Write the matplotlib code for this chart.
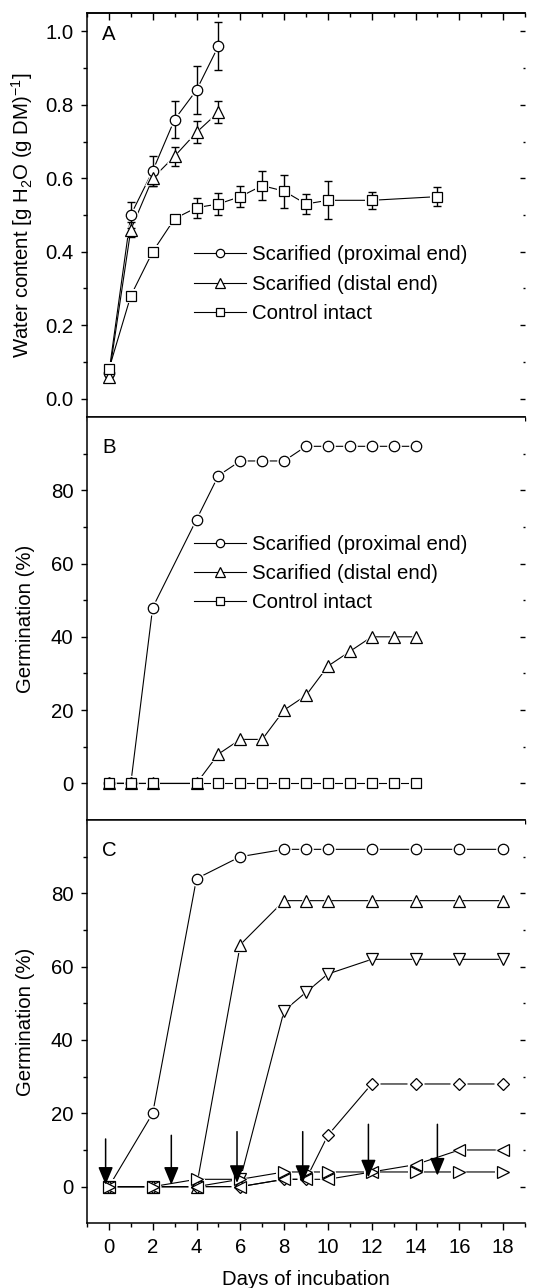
import matplotlib
matplotlib.use('Agg')
import matplotlib.pyplot as plt
from matplotlib.lines import Line2D
from matplotlib.ticker import MultipleLocator, FixedLocator, FormatStrFormatter

plt.rcParams['font.family'] = ['Liberation Sans', 'DejaVu Sans']
plt.rcParams['mathtext.fontset'] = 'custom'
plt.rcParams['mathtext.rm'] = 'Liberation Sans'
plt.rcParams['mathtext.it'] = 'Liberation Sans:italic'
plt.rcParams['mathtext.bf'] = 'Liberation Sans:bold'
plt.rcParams['mathtext.default'] = 'regular'

# ---------------- data ----------------
series_labels = ['Scarified (proximal end)', 'Scarified (distal end)', 'Control intact']

# Panel A: water content
days_a_prox = [0, 1, 2, 3, 4, 5]
water_prox = [0.07, 0.50, 0.62, 0.76, 0.84, 0.96]
water_prox_err = [0.01, 0.035, 0.04, 0.05, 0.065, 0.066]
days_a_dist = [0, 1, 2, 3, 4, 5]
water_dist = [0.06, 0.46, 0.60, 0.66, 0.725, 0.78]
water_dist_err = [0.01, 0.02, 0.02, 0.026, 0.03, 0.03]
days_a_ctrl = [0, 1, 2, 3, 4, 5, 6, 7, 8, 9, 10, 12, 15]
water_ctrl = [0.08, 0.28, 0.40, 0.49, 0.52, 0.53, 0.55, 0.58, 0.565, 0.53, 0.54, 0.54, 0.55]
water_ctrl_err = [0.01, 0.01, 0.01, 0.01, 0.027, 0.03, 0.028, 0.04, 0.045, 0.027, 0.052, 0.023, 0.025]

# Panel B: germination
days_b = [0, 1, 2, 4, 5, 6, 7, 8, 9, 10, 11, 12, 13, 14]
germ_b_prox = [0, 0, 48, 72, 84, 88, 88, 88, 92, 92, 92, 92, 92, 92]
germ_b_dist = [0, 0, 0, 0, 8, 12, 12, 20, 24, 32, 36, 40, 40, 40]
germ_b_ctrl = [0, 0, 0, 0, 0, 0, 0, 0, 0, 0, 0, 0, 0, 0]

# Panel C: germination
days_c = [0, 2, 4, 6, 8, 9, 10, 12, 14, 16, 18]
germ_c_circle = [0, 20, 84, 90, 92, 92, 92, 92, 92, 92, 92]
germ_c_up = [0, 0, 0, 66, 78, 78, 78, 78, 78, 78, 78]
germ_c_down = [0, 0, 0, 2, 48, 53, 58, 62, 62, 62, 62]
germ_c_diamond = [0, 0, 0, 0, 2, 2, 14, 28, 28, 28, 28]
germ_c_left = [0, 0, 0, 0, 2, 2, 2, 4, 6, 10, 10]
germ_c_right = [0, 0, 2, 2, 4, 4, 4, 4, 4, 4, 4]

# arrows in panel C
arrow_days = [-0.15, 2.85, 5.85, 8.85, 11.85, 15.0]
arrow_from = [13, 14, 15, 15, 17, 17]
arrow_to = [0.5, 0.5, 1, 1, 2.5, 3]

panel_letters = ['A', 'B', 'C']

# ---------------- style ----------------
FS = 14.7
LW = 0.8
MEW = 0.9
MS = {'o': 7.5, '^': 8.3, 's': 6.5, 'v': 8.3, 'D': 6.4, '<': 8.0, '>': 8.0}

W, H = 540, 1288
fig = plt.figure(figsize=(W / 100, H / 100), dpi=100)


def pos(l, t, r, b):
    return [l / W, 1 - b / H, (r - l) / W, (b - t) / H]


axA = fig.add_axes(pos(87, 13, 525, 417))
axB = fig.add_axes(pos(87, 417, 525, 820))
axC = fig.add_axes(pos(87, 820, 525, 1223.3))


def series(ax, x, y, marker, yerr=None):
    ms = MS[marker]
    ax.plot(x, y, '-', color='k', lw=LW, zorder=2)
    ax.plot(x, y, ls='none', marker=marker, ms=ms + 3.0, mfc='white',
            mec='white', mew=0, zorder=3)
    if yerr is not None:
        ax.errorbar(x, y, yerr=yerr, fmt='none', ecolor='k', elinewidth=1.0,
                    capsize=3.0, capthick=1.0, zorder=3.5)
    ax.plot(x, y, ls='none', marker=marker, ms=ms, mfc='white', mec='k',
            mew=MEW, zorder=4)


def style_axes(ax, last=False):
    ax.set_xlim(-1, 19)
    ax.xaxis.set_major_locator(MultipleLocator(2))
    ax.xaxis.set_minor_locator(MultipleLocator(1))
    ax.tick_params(axis='x', which='major', direction='out', length=4.8,
                   width=1.0, labelsize=FS, pad=5.5, labelbottom=last)
    ax.tick_params(axis='x', which='minor', direction='out', length=2.9,
                   width=1.0)
    ax.tick_params(axis='y', which='major', direction='out', length=4.1,
                   width=1.0, labelsize=FS, pad=5.8)
    ax.tick_params(axis='y', which='minor', direction='out', length=2.9,
                   width=1.0)
    for s in ['left', 'bottom', 'top']:
        ax.spines[s].set_linewidth(1.1)
    ax.spines['right'].set_visible(False)
    sec = ax.secondary_yaxis('right')
    sec.yaxis.set_major_locator(ax.yaxis.get_major_locator())
    sec.yaxis.set_minor_locator(ax.yaxis.get_minor_locator())
    sec.tick_params(axis='y', which='major', direction='in', length=3.6,
                    width=1.0, labelright=False)
    sec.tick_params(axis='y', which='minor', direction='in', length=1.4,
                    width=1.0)
    sec.spines['right'].set_visible(False)


# ---------------- Panel A ----------------
series(axA, days_a_prox, water_prox, 'o', water_prox_err)
series(axA, days_a_dist, water_dist, '^', water_dist_err)
series(axA, days_a_ctrl, water_ctrl, 's', water_ctrl_err)
axA.set_ylim(-0.05, 1.05)
axA.yaxis.set_major_locator(FixedLocator([0.0, 0.2, 0.4, 0.6, 0.8, 1.0]))
axA.yaxis.set_minor_locator(FixedLocator([0.1, 0.3, 0.5, 0.7, 0.9]))
axA.yaxis.set_major_formatter(FormatStrFormatter('%.1f'))
style_axes(axA)
topx = axA.secondary_xaxis('top')
topx.xaxis.set_major_locator(MultipleLocator(2))
topx.xaxis.set_minor_locator(MultipleLocator(1))
topx.tick_params(axis='x', which='major', direction='in', length=5.0,
                 width=1.0, labeltop=False)
topx.tick_params(axis='x', which='minor', direction='in', length=2.9,
                 width=1.0)
topx.spines['top'].set_linewidth(1.1)
axA.set_ylabel(r'Water content [g H$_2$O (g DM)$^{-1}$]', fontsize=FS)
axA.yaxis.set_label_coords(-0.119, 0.5)

# ---------------- Panel B ----------------
series(axB, days_b, germ_b_prox, 'o')
series(axB, days_b, germ_b_dist, '^')
series(axB, days_b, germ_b_ctrl, 's')
axB.set_ylim(-10, 100)
for ax in (axB, axC):
    ax.yaxis.set_major_locator(FixedLocator([0, 20, 40, 60, 80]))
    ax.yaxis.set_minor_locator(FixedLocator([10, 30, 50, 70, 90]))
style_axes(axB)
axB.set_ylabel('Germination (%)', fontsize=FS)
axB.yaxis.set_label_coords(-0.119, 0.5)

# legends
def legend_handles():
    hs = []
    for m in ['o', '^', 's']:
        hs.append(Line2D([], [], color='k', lw=LW, marker=m, ms=MS[m] * 0.8,
                         mfc='white', mec='k', mew=MEW))
    return hs


for ax, yy in ((axA, 0.4246), (axB, 0.708)):
    ax.legend(legend_handles(), series_labels, loc='upper left',
              bbox_to_anchor=(0.244, yy), frameon=False, fontsize=FS,
              handlelength=2.55, handletextpad=0.3, labelspacing=0.5,
              borderpad=0, borderaxespad=0)

# ---------------- Panel C ----------------
series(axC, days_c, germ_c_circle, 'o')
series(axC, days_c, germ_c_up, '^')
series(axC, days_c, germ_c_down, 'v')
series(axC, days_c, germ_c_diamond, 'D')
series(axC, days_c, germ_c_left, '<')
series(axC, days_c, germ_c_right, '>')
axC.set_ylim(-10, 100)
style_axes(axC, last=True)
axC.set_ylabel('Germination (%)', fontsize=FS)
axC.yaxis.set_label_coords(-0.119, 0.5)
axC.set_xlabel('Days of incubation', fontsize=FS)
axC.xaxis.set_label_coords(0.5, -0.116)
axC.xaxis.label.set_va('top')

for xd, y0, y1 in zip(arrow_days, arrow_from, arrow_to):
    axC.annotate('', xy=(xd, y1), xytext=(xd, y0),
                 arrowprops=dict(arrowstyle='-|>,head_length=1.08,head_width=0.45',
                                 mutation_scale=10, lw=1.1, color='k',
                                 shrinkA=0, shrinkB=0), zorder=6)

# panel letters
for ax, letter, yy in zip((axA, axB, axC), panel_letters, (0.970, 0.948, 0.947)):
    ax.text(0.034, yy, letter, transform=ax.transAxes, fontsize=FS,
            ha='left', va='top')

fig.savefig('out.png', dpi=100)
